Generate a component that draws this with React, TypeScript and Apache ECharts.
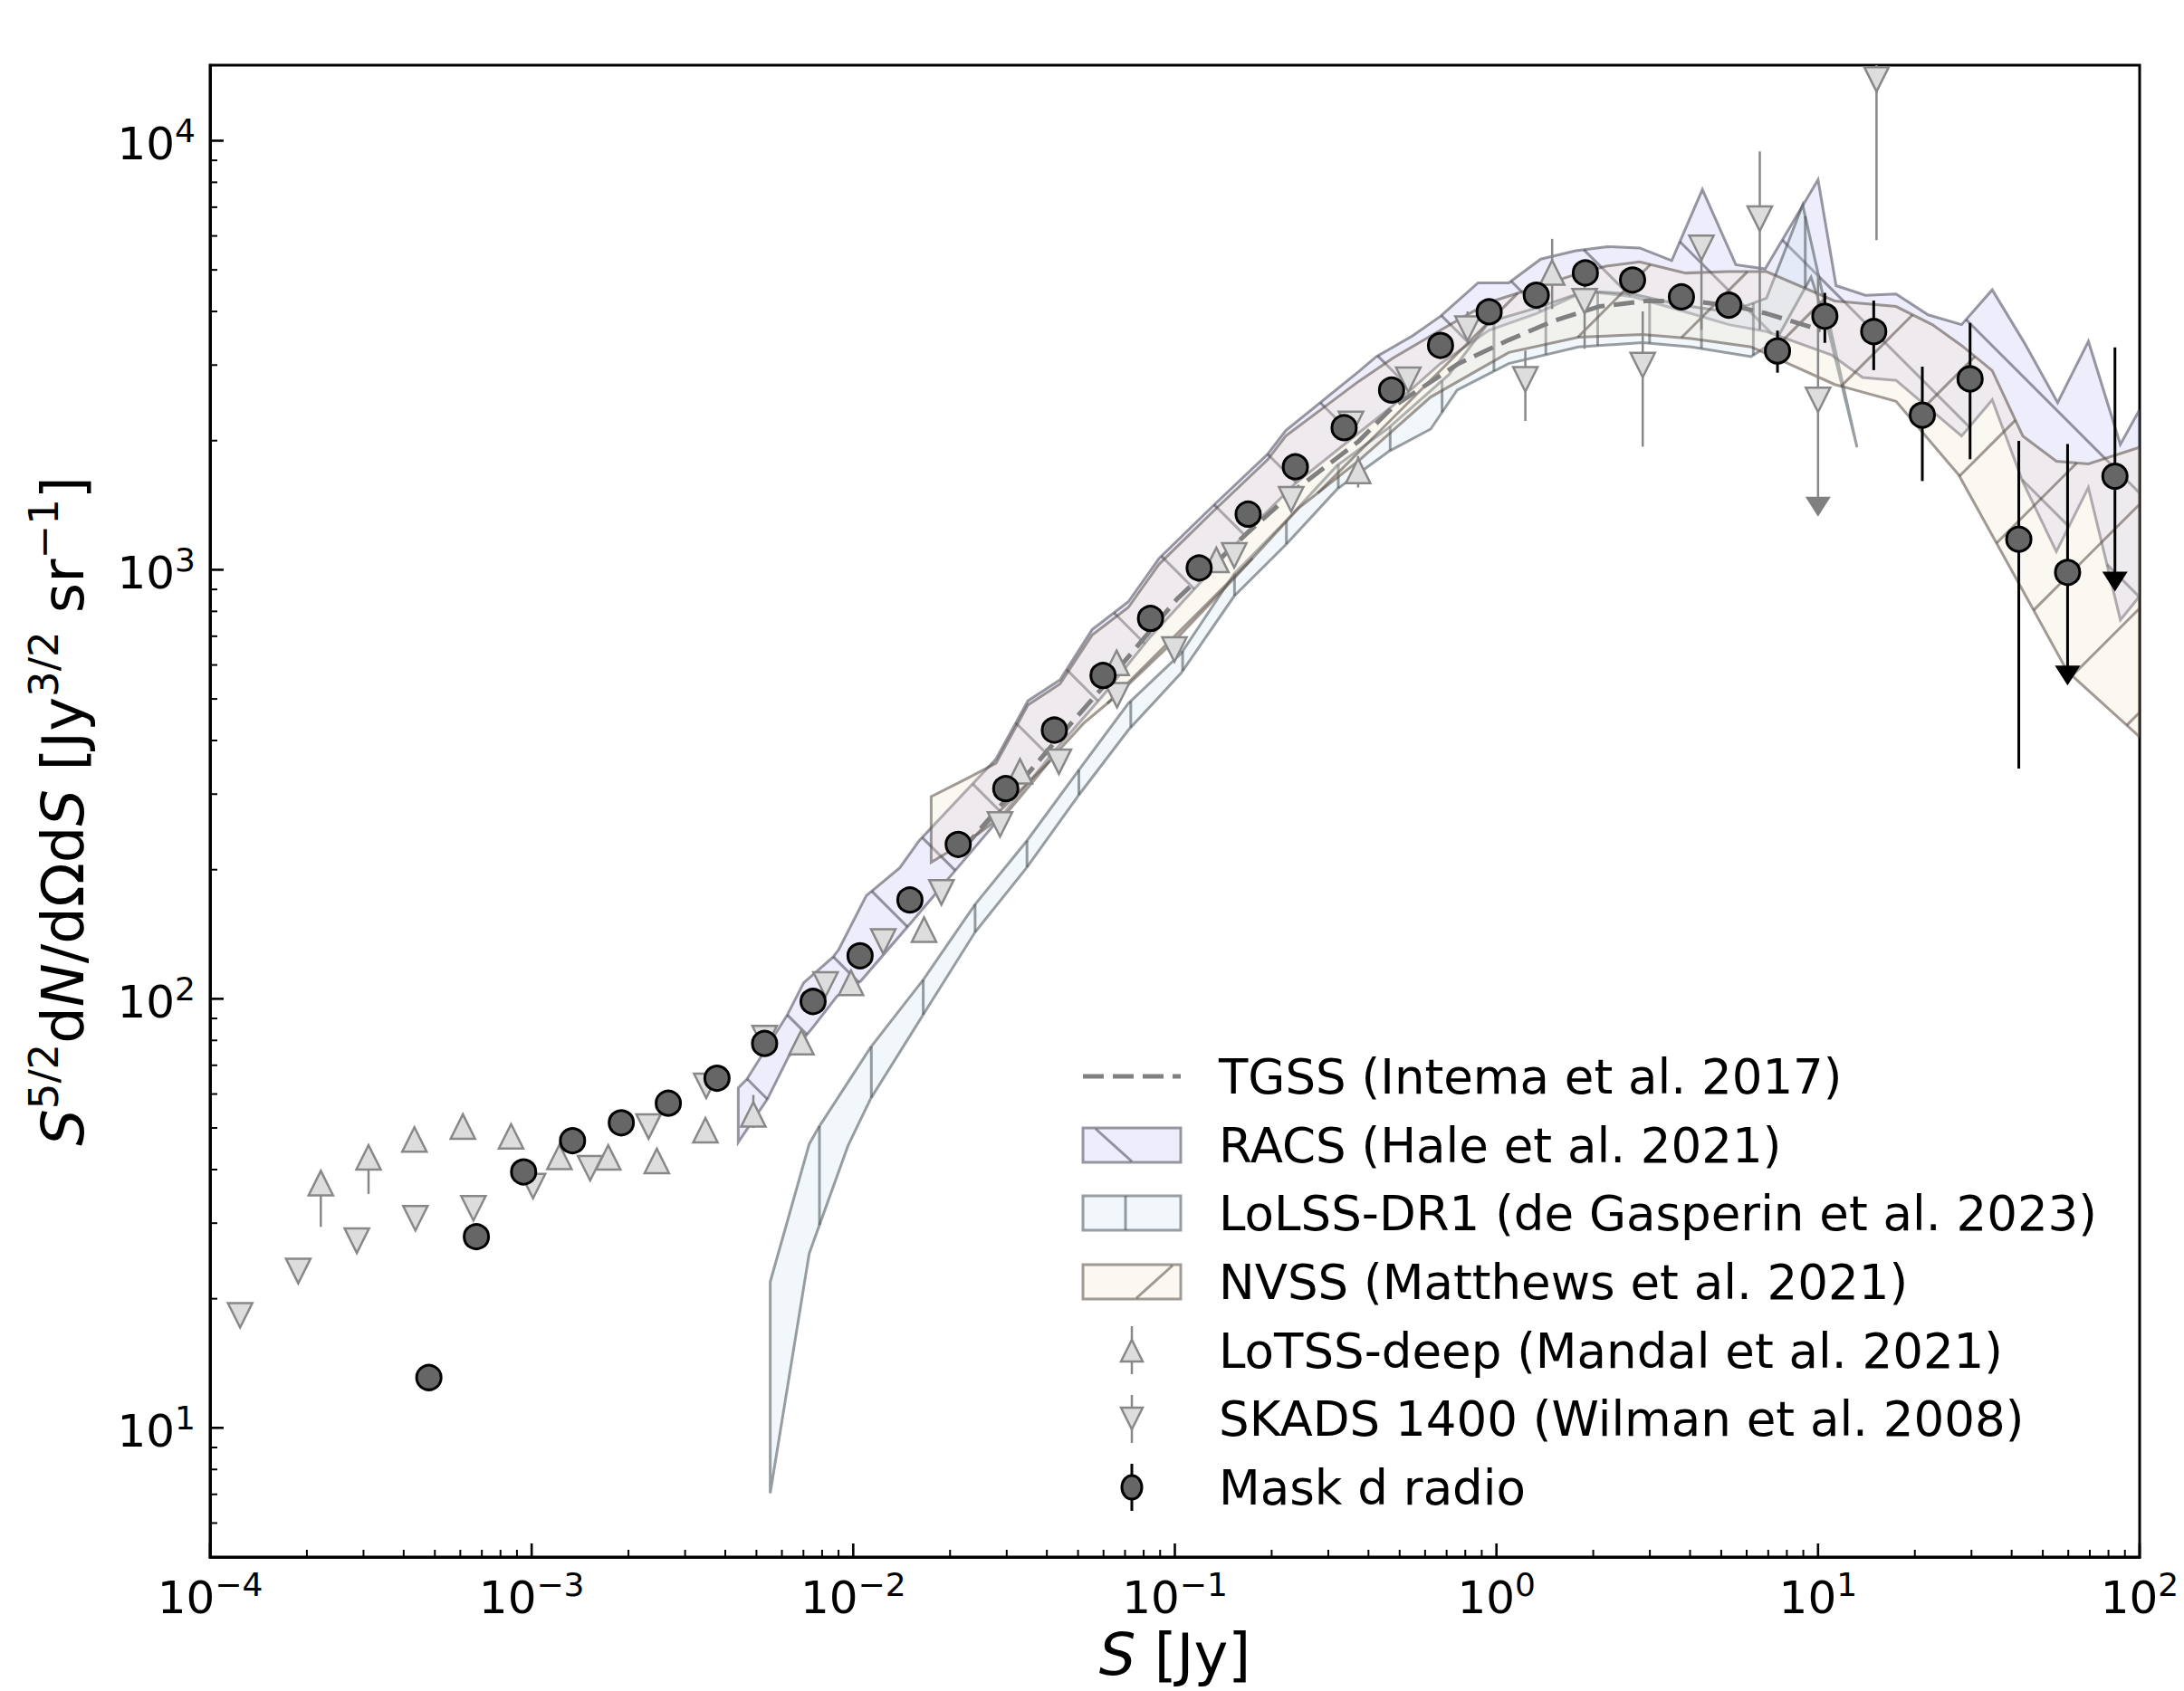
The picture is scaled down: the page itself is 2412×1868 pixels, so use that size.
import React, { useEffect, useRef } from 'react';
import * as echarts from 'echarts';

// ---------------- data ----------------
const maskS = [4.79e-4, 6.73e-4, 9.44e-4, 1.34e-3, 1.90e-3, 2.66e-3, 3.77e-3, 5.30e-3, 7.50e-3, 1.05e-2, 1.50e-2, 2.12e-2, 2.98e-2, 4.22e-2, 5.98e-2, 8.40e-2, 0.119, 0.169, 0.237, 0.336, 0.472, 0.670, 0.949, 1.33, 1.89, 2.65, 3.76, 5.28, 7.48, 10.5, 14.9, 21.1, 29.7, 42.1, 59.7, 83.8];
const maskV = [13.1, 27.9, 39.5, 46.7, 51.4, 57.1, 65.3, 78.7, 98.6, 126, 170, 229, 309, 423, 567, 770, 1010, 1348, 1738, 2144, 2623, 3333, 3993, 4365, 4919, 4736, 4327, 4138, 3236, 3899, 3591, 2293, 2786, 1178, 986, 1652];
const maskErrS = [5.28, 7.48, 10.5, 14.9, 21.1, 29.7, 42.1, 59.7, 83.8];
const maskErrLo = [3870, 2880, 3380, 2920, 1610, 1810, 344, 567, 938];
const maskErrHi = [4420, 3610, 4420, 4240, 2975, 3760, 1998, 1964, 3300];
const maskLimS = [59.7, 83.8];
const maskLimV = [567, 938];

const skadsS = [1.24e-4, 1.88e-4, 2.86e-4, 4.35e-4, 6.59e-4, 1.01e-3, 1.52e-3, 2.31e-3, 3.49e-3, 5.30e-3, 8.2e-3, 1.24e-2, 1.88e-2, 2.86e-2, 4.36e-2, 6.61e-2, 0.0997, 0.153, 0.230, 0.353, 0.532, 0.813, 1.23, 1.88, 2.85, 4.34, 6.59, 10.0, 15.2];
const skadsV = [18.3, 23.2, 27.3, 30.8, 32.5, 36.6, 40.3, 50.4, 62.7, 81, 108, 136, 177, 255, 357, 510, 652, 1080, 1460, 2188, 2773, 3648, 2780, 4227, 3000, 5628, 6580, 2489, 13900];
const skadsErrS = [0.813, 1.23, 1.88, 2.85, 4.34, 6.59, 10.0, 15.2];
const skadsErrLo = [3624, 2223, 3274, 1936, 3624, 3624, 1403, 5864];
const skadsErrHi = [4000, 3243, 4932, 4000, 5957, 9440, 4890, 20000];
const skadsLimS = [10.0];
const skadsLimV = [1403];

const lotssS = [2.21e-4, 3.11e-4, 4.32e-4, 6.11e-4, 8.63e-4, 1.22e-3, 1.73e-3, 2.45e-3, 3.47e-3, 4.89e-3, 6.9e-3, 9.84e-3, 1.66e-2, 3.30e-2, 6.59e-2, 0.1346, 0.3715, 1.49];
const lotssV = [37.2, 42.7, 47.0, 50.4, 47.8, 42.8, 42.7, 41.9, 49.4, 53.8, 79.2, 109, 145, 339, 607, 1054, 1700, 4929];
const lotssErrS = [2.21e-4, 3.11e-4, 4.89e-3, 0.3715, 1.49];
const lotssErrLo = [29.4, 35.1, 50.0, 1555, 4053];
const lotssErrHi = [38.5, 44.0, 59.7, 1841, 5906];

const tgssS = [2.165e-2, 2.979e-2, 4.223e-2, 5.990e-2, 0.1016, 0.1674, 0.2420, 0.3717, 0.4770, 0.7622, 1.092, 1.518, 2.088, 2.902, 4.034, 5.552, 6.915, 10.2];
const tgssV = [221, 291, 396, 534, 855, 1215, 1555, 1989, 2399, 3024, 3432, 3812, 4108, 4232, 4232, 4108, 3957, 3617];

const racsUpS = [4.39e-3, 4.657e-3, 6.22e-3, 7.011e-3, 8.643e-3, 8.996e-3, 1.098e-2, 1.395e-2, 1.605e-2, 2.778e-2, 3.494e-2, 4.395e-2, 5.528e-2, 7.166e-2, 8.924e-2, 0.1317, 0.1943, 0.2213, 0.3717, 0.4231, 0.5483, 0.6696, 0.8767, 1.092, 1.373, 1.763, 2.217, 2.789, 3.508, 4.369, 5.552, 6.847, 10.0, 11.38, 14.04, 17.48, 21.99, 27.95, 34.80, 43.8, 55.6, 69.3, 87.1, 100];
const racsUpV = [62.0, 64.8, 91.4, 109, 125, 130, 174, 202, 234, 362, 495, 554, 725, 842, 1062, 1411, 1860, 2112, 2891, 3139, 3510, 3898, 4665, 4665, 5297, 5540, 5665, 5623, 5258, 7697, 5140, 5027, 8111, 4595, 4361, 4394, 3928, 3727, 4493, 3382, 2453, 3407, 1959, 2363];
const racsLoS = [4.39e-3, 5.41e-3, 6.28e-3, 7.52e-3, 8.91e-3, 1.055e-2, 1.496e-2, 2.122e-2, 2.979e-2, 4.223e-2, 5.990e-2, 8.405e-2, 0.1192, 0.1690, 0.2372, 0.3364, 0.4723, 0.6696, 0.9495, 1.333, 1.890, 2.653, 3.762, 5.282, 6.915, 11.05, 13.76, 17.48, 27.95, 34.80, 43.34, 55.07, 69.28, 87.14, 100];
const racsLoV = [46.3, 58.4, 73.1, 86.1, 101.5, 110, 149, 203, 274, 378, 510, 699, 928, 1233, 1590, 1959, 2399, 3024, 3617, 3957, 4460, 4329, 4017, 3727, 3590, 3162, 2806, 2764, 2050, 2489, 1602, 1102, 1555, 764, 868];

const lolssUpS = [5.518e-3, 7.296e-3, 7.823e-3, 1.1315e-2, 1.654e-2, 2.392e-2, 3.459e-2, 5.053e-2, 7.166e-2, 0.1047, 0.1529, 0.2213, 0.3200, 0.4629, 0.7109, 0.9495, 1.333, 1.890, 2.653, 3.762, 5.282, 6.915, 8.961, 13.22];
const lolssUpV = [21.9, 45.9, 50.3, 77.0, 111, 166, 233, 343, 488, 639, 978, 1299, 1752, 2144, 2848, 3783, 4077, 4460, 4394, 4139, 3986, 4296, 7088, 1930];
const lolssLoS = [5.518e-3, 7.296e-3, 9.647e-3, 1.1315e-2, 1.654e-2, 2.392e-2, 3.459e-2, 5.053e-2, 7.166e-2, 0.1047, 0.1529, 0.2213, 0.3200, 0.4629, 0.6245, 0.7547, 1.092, 1.799, 2.845, 4.034, 6.194, 7.413, 9.513, 10.83, 13.22];
const lolssLoV = [7.04, 25.5, 45.6, 58.4, 92.1, 143, 202, 300, 423, 575, 868, 1144, 1543, 1888, 2128, 2623, 3024, 3307, 3382, 3307, 3139, 3432, 4807, 3563, 1930];

const nvssUpS = [1.747e-2, 2.289e-2, 2.778e-2, 3.494e-2, 4.395e-2, 5.528e-2, 7.166e-2, 8.924e-2, 0.1317, 0.1943, 0.2213, 0.3717, 0.4770, 0.6696, 0.9495, 1.294, 1.763, 2.195, 2.789, 3.876, 5.230, 6.915, 11.27, 17.48, 22.66, 27.95, 34.80, 43.34, 55.07, 69.28, 100];
const nvssUpV = [296, 328, 354, 484, 542, 704, 817, 1030, 1369, 1805, 2050, 2744, 3115, 3617, 4201, 4527, 4879, 5103, 5218, 4916, 4952, 4952, 4232, 4108, 3727, 3332, 2913, 2050, 1791, 1765, 1930];
const nvssLoS = [1.747e-2, 2.439e-2, 3.039e-2, 3.600e-2, 4.266e-2, 5.207e-2, 6.617e-2, 0.1016, 0.1560, 0.2420, 0.3717, 0.6245, 1.092, 1.799, 2.845, 4.034, 6.194, 11.27, 17.48, 27.39, 43.34, 59.65, 100];
const nvssLoV = [208, 242, 274, 319, 373, 439, 510, 693, 971, 1390, 1791, 2527, 3210, 3484, 3536, 3459, 3307, 2703, 2471, 1663, 894, 579, 408];

const legendLabels = [
  'TGSS (Intema et al. 2017)',
  'RACS (Hale et al. 2021)',
  'LoLSS-DR1 (de Gasperin et al. 2023)',
  'NVSS (Matthews et al. 2021)',
  'LoTSS-deep (Mandal et al. 2021)',
  'SKADS 1400 (Wilman et al. 2008)',
  'Mask d radio',
];

const X_MIN = 1e-4, X_MAX = 1e2, Y_MIN = 5, Y_MAX = 15000;
const FONT = 'DejaVu Sans';

// ---------------- styles ----------------
const racsFill = 'rgba(200,198,242,0.32)';
const racsEdge = 'rgba(70,70,85,0.55)';
const lolssFill = 'rgba(205,228,236,0.28)';
const lolssEdge = 'rgba(70,80,85,0.55)';
const nvssFill = 'rgba(240,228,205,0.28)';
const nvssEdge = 'rgba(85,75,65,0.55)';

function hatch(poly: number[][], mode: string, step: number, phase: number) {
  const u = (p: number[]) => (mode === 'v' ? p[0] : mode === 'ne' ? p[0] + p[1] : p[0] - p[1]);
  const us = poly.map(u);
  const minU = Math.min(...us), maxU = Math.max(...us);
  const segs: number[][][] = [];
  for (let k = Math.ceil((minU - phase) / step); phase + k * step <= maxU; k++) {
    const c = phase + k * step;
    const pts: number[][] = [];
    for (let i = 0; i < poly.length; i++) {
      const j = (i + 1) % poly.length;
      const a = poly[i], b = poly[j];
      const ua = us[i], ub = us[j];
      if ((ua <= c && ub > c) || (ub <= c && ua > c)) {
        const t = (c - ua) / (ub - ua);
        pts.push([a[0] + t * (b[0] - a[0]), a[1] + t * (b[1] - a[1])]);
      }
    }
    pts.sort((p, q) => (mode === 'v' ? p[1] - q[1] : p[0] - q[0]));
    for (let m = 0; m + 1 < pts.length; m += 2) segs.push([pts[m], pts[m + 1]]);
  }
  return segs;
}

function bandSeries(name: string, upS: number[], upV: number[], loS: number[], loV: number[], fill: string, stroke: string, mode: string, step: number, phase: number, z: number) {
  return {
    type: 'custom',
    name,
    coordinateSystem: 'cartesian2d',
    clip: true,
    z,
    silent: true,
    data: [[upS[0], upV[0]]],
    renderItem: (_p: any, api: any) => {
      const pts: number[][] = [];
      for (let i = 0; i < upS.length; i++) pts.push(api.coord([upS[i], upV[i]]));
      for (let i = loS.length - 1; i >= 0; i--) pts.push(api.coord([loS[i], loV[i]]));
      const segs = hatch(pts, mode, step, phase);
      return {
        type: 'group',
        children: [
          { type: 'polygon', shape: { points: pts }, style: { fill, stroke, lineWidth: 3 } },
          ...segs.map((s) => ({
            type: 'line',
            shape: { x1: s[0][0], y1: s[0][1], x2: s[1][0], y2: s[1][1] },
            style: { stroke, lineWidth: 3 },
          })),
        ],
      };
    },
  };
}

function errSeries(S: number[], lo: number[], hi: number[], color: string, width: number, z: number) {
  return {
    type: 'custom',
    coordinateSystem: 'cartesian2d',
    clip: true,
    z,
    silent: true,
    data: S.map((s, i) => [s, lo[i], hi[i]]),
    renderItem: (_p: any, api: any) => {
      const a = api.coord([api.value(0), api.value(1)]);
      const b = api.coord([api.value(0), api.value(2)]);
      return { type: 'line', shape: { x1: a[0], y1: a[1], x2: b[0], y2: b[1] }, style: { stroke: color, lineWidth: width } };
    },
  };
}

function tickData(axis: string) {
  const out: number[][] = [];
  const lo = axis === 'x' ? -4 : 0;
  const hi = axis === 'x' ? 2 : 4;
  for (let k = lo; k <= hi; k++) {
    for (let m = 1; m <= 9; m++) {
      const v = m * Math.pow(10, k);
      const min = axis === 'x' ? X_MIN : Y_MIN;
      const max = axis === 'x' ? X_MAX : Y_MAX;
      if (v < min * 0.999 || v > max * 1.001) continue;
      out.push(axis === 'x' ? [v, Y_MIN, m === 1 ? 1 : 0] : [X_MIN, v, m === 1 ? 1 : 0]);
    }
  }
  return out;
}

function tickSeries(axis: string) {
  return {
    type: 'custom',
    coordinateSystem: 'cartesian2d',
    clip: false,
    z: 20,
    silent: true,
    data: tickData(axis),
    renderItem: (_p: any, api: any) => {
      const p = api.coord([api.value(0), api.value(1)]);
      const major = api.value(2) === 1;
      const len = major ? 15 : 8;
      const w = major ? 2.6 : 2;
      const shape = axis === 'x'
        ? { x1: p[0], y1: p[1], x2: p[0], y2: p[1] - len }
        : { x1: p[0], y1: p[1], x2: p[0] + len, y2: p[1] };
      return { type: 'line', shape, style: { stroke: '#000', lineWidth: w } };
    },
  };
}

function decadeLabel(v: number) {
  const l = Math.log10(v);
  const k = Math.round(l);
  if (Math.abs(l - k) > 1e-6) return '';
  return '{b|10}{s|' + (k < 0 ? '\u2212' + -k : String(k)) + '}';
}

const tickRich = {
  b: { fontSize: 50, fontFamily: FONT, color: '#000', lineHeight: 58, verticalAlign: 'bottom' },
  s: { fontSize: 36, fontFamily: FONT, color: '#000', lineHeight: 34, verticalAlign: 'top' },
};

const nameRich = {
  n: { fontSize: 64, fontFamily: FONT, color: '#000', lineHeight: 76, verticalAlign: 'bottom' },
  it: { fontSize: 64, fontFamily: FONT, fontStyle: 'italic', color: '#000', lineHeight: 76, verticalAlign: 'bottom' },
  sup: { fontSize: 45, fontFamily: FONT, color: '#000', lineHeight: 44, verticalAlign: 'top' },
};

const xNameRich = {
  n: { fontSize: 64, fontFamily: FONT, color: '#000', lineHeight: 66 },
  it: { fontSize: 64, fontFamily: FONT, fontStyle: 'italic', color: '#000', lineHeight: 66 },
};

function tri(cx: number, cy: number, h: number, down: boolean) {
  return down
    ? [[cx - h, cy - h], [cx + h, cy - h], [cx, cy + h]]
    : [[cx, cy - h], [cx - h, cy + h], [cx + h, cy + h]];
}

function buildLegend() {
  const rows = [1189, 1265, 1340, 1416, 1492, 1567, 1643];
  const x0 = 1196, x1 = 1304, cx = 1250;
  const g: any[] = [];
  g.push({ type: 'line', shape: { x1: x0, y1: rows[0], x2: x1, y2: rows[0] }, style: { stroke: '#808080', lineWidth: 5, lineDash: [23, 10] } });
  g.push({ type: 'rect', shape: { x: x0, y: rows[1] - 19, width: 108, height: 38 }, style: { fill: racsFill, stroke: racsEdge, lineWidth: 3 } });
  g.push({ type: 'line', shape: { x1: 1210, y1: rows[1] - 18, x2: 1250, y2: rows[1] + 18 }, style: { stroke: racsEdge, lineWidth: 3 } });
  g.push({ type: 'rect', shape: { x: x0, y: rows[2] - 19, width: 108, height: 38 }, style: { fill: lolssFill, stroke: lolssEdge, lineWidth: 3 } });
  g.push({ type: 'line', shape: { x1: 1243, y1: rows[2] - 19, x2: 1243, y2: rows[2] + 19 }, style: { stroke: lolssEdge, lineWidth: 3 } });
  g.push({ type: 'rect', shape: { x: x0, y: rows[3] - 19, width: 108, height: 38 }, style: { fill: nvssFill, stroke: nvssEdge, lineWidth: 3 } });
  g.push({ type: 'line', shape: { x1: 1255, y1: rows[3] + 18, x2: 1295, y2: rows[3] - 18 }, style: { stroke: nvssEdge, lineWidth: 3 } });
  g.push({ type: 'line', shape: { x1: cx, y1: rows[4] - 27, x2: cx, y2: rows[4] + 26 }, style: { stroke: '#888', lineWidth: 2.5 } });
  g.push({ type: 'polygon', shape: { points: tri(cx, rows[4], 12, false) }, style: { fill: '#dddddd', stroke: '#888', lineWidth: 2.5 } });
  g.push({ type: 'line', shape: { x1: cx, y1: rows[5] - 26, x2: cx, y2: rows[5] + 27 }, style: { stroke: '#888', lineWidth: 2.5 } });
  g.push({ type: 'polygon', shape: { points: tri(cx, rows[5], 12, true) }, style: { fill: '#dddddd', stroke: '#888', lineWidth: 2.5 } });
  g.push({ type: 'line', shape: { x1: cx, y1: rows[6] - 26, x2: cx, y2: rows[6] + 26 }, style: { stroke: '#000', lineWidth: 3 } });
  g.push({ type: 'ellipse', shape: { cx, cy: rows[6], rx: 11, ry: 13 }, style: { fill: '#666', stroke: '#000', lineWidth: 3 } });
  legendLabels.forEach((t, i) => {
    g.push({
      type: 'text',
      x: 1346,
      y: rows[i],
      style: { text: t, fontSize: 53, fontFamily: FONT, fill: '#000', verticalAlign: 'middle', textVerticalAlign: 'middle', align: 'left' },
    });
  });
  return g;
}

function buildOption() {
  const pair = (S: number[], V: number[]) => S.map((s, i) => [s, V[i]]);
  return {
    animation: false,
    backgroundColor: '#fff',
    textStyle: { fontFamily: FONT },
    grid: {
      left: 232, right: 49, top: 72, bottom: 148,
      containLabel: false, outerBoundsMode: 'none',
      show: true, borderColor: '#000', borderWidth: 3, backgroundColor: 'transparent',
    },
    xAxis: {
      type: 'log',
      logBase: 10,
      min: X_MIN,
      max: X_MAX,
      axisLine: { show: true, lineStyle: { color: '#000', width: 3 } },
      axisTick: { show: false },
      splitLine: { show: false },
      axisLabel: { formatter: decadeLabel, rich: tickRich, margin: 12, showMinLabel: true, showMaxLabel: true },
      name: '{it|S}{n| [Jy]}',
      nameLocation: 'middle',
      nameGap: 74,
      nameTextStyle: { rich: xNameRich, lineHeight: 66 },
    },
    yAxis: {
      type: 'log',
      logBase: 10,
      min: Y_MIN,
      max: Y_MAX,
      axisLine: { show: true, lineStyle: { color: '#000', width: 3 } },
      axisTick: { show: false },
      splitLine: { show: false },
      axisLabel: { formatter: decadeLabel, rich: tickRich, margin: 16 },
      name: '{it|S}{sup|5/2}{n|d}{it|N}{n|/d\u03A9d}{it|S}{n| [Jy}{sup|3/2}{n| sr}{sup|\u22121}{n|]}',
      nameLocation: 'middle',
      nameRotate: 90,
      nameGap: 130,
      nameTextStyle: { rich: nameRich },
    },
    graphic: buildLegend(),
    series: [
      bandSeries('RACS', racsUpS, racsUpV, racsLoS, racsLoV, racsFill, racsEdge, 'nw', 115, 93.3, 1),
      bandSeries('LoLSS', lolssUpS, lolssUpV, lolssLoS, lolssLoV, lolssFill, lolssEdge, 'v', 57.3, 45.5, 1),
      bandSeries('NVSS', nvssUpS, nvssUpV, nvssLoS, nvssLoV, nvssFill, nvssEdge, 'ne', 115, 45, 1),
      {
        type: 'line',
        name: 'TGSS',
        z: 2,
        data: pair(tgssS, tgssV),
        symbol: 'none',
        lineStyle: { color: '#808080', width: 5, type: [23, 10] },
        silent: true,
      },
      errSeries(lotssErrS, lotssErrLo, lotssErrHi, '#888', 2.5, 3),
      {
        type: 'scatter',
        name: 'LoTSS',
        z: 3,
        data: pair(lotssS, lotssV),
        symbol: 'triangle',
        symbolSize: 27,
        itemStyle: { color: '#dddddd', borderColor: '#888', borderWidth: 2.5, opacity: 1 },
        silent: true,
      },
      errSeries(skadsErrS, skadsErrLo, skadsErrHi, '#888', 2.5, 4),
      {
        type: 'scatter',
        name: 'SKADS',
        z: 4,
        data: pair(skadsS, skadsV),
        symbol: 'triangle',
        symbolRotate: 180,
        symbolSize: 27,
        itemStyle: { color: '#dddddd', borderColor: '#888', borderWidth: 2.5, opacity: 1 },
        silent: true,
      },
      {
        type: 'scatter',
        z: 4,
        data: pair(skadsLimS, skadsLimV),
        symbol: 'triangle',
        symbolRotate: 180,
        symbolSize: [28, 22],
        itemStyle: { color: '#808080', opacity: 1 },
        silent: true,
      },
      errSeries(maskErrS, maskErrLo, maskErrHi, '#000', 3, 5),
      {
        type: 'scatter',
        z: 5,
        data: pair(maskLimS, maskLimV),
        symbol: 'triangle',
        symbolRotate: 180,
        symbolSize: [28, 22],
        itemStyle: { color: '#000', opacity: 1 },
        silent: true,
      },
      {
        type: 'scatter',
        name: 'Mask d radio',
        z: 6,
        data: pair(maskS, maskV),
        symbol: 'circle',
        symbolSize: 27,
        itemStyle: { color: '#666666', borderColor: '#000', borderWidth: 3, opacity: 1 },
        silent: true,
      },
      tickSeries('x'),
      tickSeries('y'),
    ],
  };
}

export default function App() {
  const ref = useRef<HTMLDivElement>(null);
  useEffect(() => {
    document.body.style.margin = '0';
    const chart = echarts.init(ref.current as HTMLDivElement, null, { renderer: 'svg' });
    chart.setOption(buildOption() as any);
    return () => chart.dispose();
  }, []);
  return <div ref={ref} style={{ width: 2412, height: 1868, background: '#fff' }} />;
}
